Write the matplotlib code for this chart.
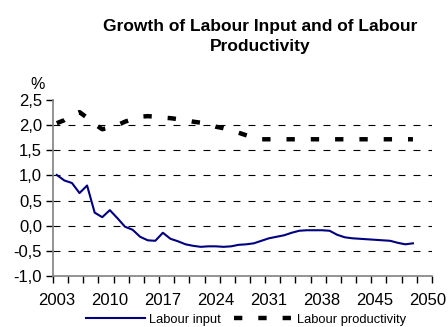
import matplotlib
matplotlib.use("Agg")
import matplotlib.pyplot as plt
from matplotlib import rc
import numpy as np

rc('font', family='Liberation Sans')
rc('lines', scale_dashes=False)

# yearly series, 2003 .. 2050
years = np.arange(2003, 2051)
labour_input = [1.01, 0.90, 0.85, 0.65, 0.80, 0.26, 0.17, 0.31, 0.15, -0.02,
                -0.08, -0.22, -0.29, -0.30, -0.14, -0.26, -0.31, -0.37, -0.40, -0.42,
                -0.41, -0.41, -0.42, -0.41, -0.38, -0.37, -0.35, -0.30, -0.25, -0.22,
                -0.19, -0.14, -0.10, -0.09, -0.09, -0.09, -0.10, -0.18, -0.23, -0.25,
                -0.26, -0.27, -0.28, -0.29, -0.30, -0.34, -0.37, -0.35]
labour_productivity = [2.04, 2.10, 2.20, 2.26, 2.15, 2.02, 1.92, 1.95, 2.00, 2.07,
                       2.12, 2.17, 2.18, 2.17, 2.15, 2.14, 2.12, 2.10, 2.07, 2.05,
                       2.02, 1.97, 1.94, 1.90, 1.85, 1.80, 1.75, 1.72, 1.72, 1.72,
                       1.72, 1.72, 1.72, 1.72, 1.72, 1.72, 1.72, 1.72, 1.72, 1.72,
                       1.72, 1.72, 1.72, 1.72, 1.72, 1.72, 1.72, 1.72]
xlabels = ['2003', '2010', '2017', '2024', '2031', '2038', '2045', '2050']
yticks = [-1.0, -0.5, 0.0, 0.5, 1.0, 1.5, 2.0, 2.5]

fig = plt.figure(figsize=(4.48, 3.27), dpi=100)
ax = fig.add_axes([0.1183, 0.156, 0.8457, 0.538])

# category positions, one slot per year
pos = np.arange(len(years))
ax.plot(pos, labour_input, color='#000080', lw=1.5, label='Labour input')
ax.plot(pos, labour_productivity, color='black', lw=3.2,
        linestyle=(0, (6.0, 11.5)), label='Labour productivity')

for v in yticks[1:-1]:
    ax.axhline(v, color='black', lw=0.8, linestyle=(0, (5.0, 5.8)), zorder=0)

ax.set_xlim(-0.5, 49.5)
ax.set_ylim(-1.0, 2.5)
ax.set_yticks(yticks)
ax.set_yticklabels([('%.1f' % v).replace('.', ',') for v in yticks])
ax.set_xticks(np.arange(-0.5, 50, 2), minor=True)
ax.set_xticks([0, 7, 14, 21, 28, 35, 42, 49])
ax.set_xticklabels(xlabels)
ax.tick_params(axis='x', which='major', length=0, pad=12, labelsize=12)
ax.tick_params(axis='x', which='minor', length=5, width=1, color='black')
ax.tick_params(axis='y', length=5, width=1, color='black', labelsize=12, pad=3)

for s in ['top', 'right']:
    ax.spines[s].set_visible(False)
for s in ['left', 'bottom']:
    ax.spines[s].set_color('#808080')
    ax.spines[s].set_linewidth(1.2)

fig.text(0.083, 0.742, '%', fontsize=11.5, ha='center', va='center')
fig.text(0.58, 0.889, 'Growth of Labour Input and of Labour\nProductivity',
         fontsize=12.5, fontweight='bold', ha='center', va='center', linespacing=1.45)

fig.legend(loc='center', bbox_to_anchor=(0.549, 0.022), ncol=2, frameon=False,
           fontsize=9.3, handlelength=4.6, handletextpad=0.3, columnspacing=1.0)

plt.savefig('out.png', dpi=100)
